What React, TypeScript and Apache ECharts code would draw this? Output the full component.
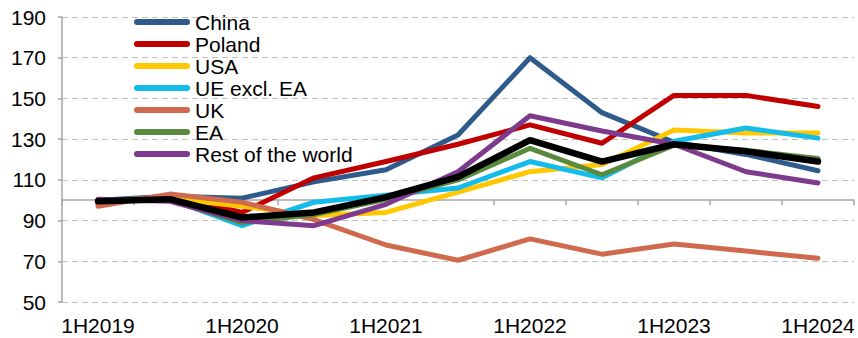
import React, { useEffect, useRef } from "react";
import * as echarts from "echarts";

// Half-year periods
const categories = [
  "1H2019", "2H2019", "1H2020", "2H2020", "1H2021", "2H2021",
  "1H2022", "2H2022", "1H2023", "2H2023", "1H2024",
];

// Index values by destination
const china = [100, 102, 101, 109, 115, 132, 170, 143, 128.5, 122.5, 114.5];
const poland = [98, 102.5, 94, 111, 119, 127.5, 137, 128, 151.5, 151.5, 146];
const usa = [100, 101, 97, 92.5, 94, 104, 114, 117.5, 134.5, 133, 133];
const ueExclEa = [100, 100.5, 87.5, 99, 102.5, 106, 119, 111, 129, 135.5, 130.5];
const uk = [97, 103, 99, 90.5, 78, 70.5, 81, 73.5, 78.5, 75, 71.5];
const ea = [100, 100, 89, 93, 100.5, 110, 125.5, 112.5, 127, 124.5, 120.5];
const restOfWorld = [100.5, 99.5, 90, 87.5, 98, 114, 141.5, 134, 127.5, 114, 108.5];
const total = [99.5, 100.5, 91.5, 94, 101.5, 111.5, 129.5, 119, 127.5, 124, 119];

const seriesNames = ["China", "Poland", "USA", "UE excl. EA", "UK", "EA", "Rest of the world"];
const seriesData = [china, poland, usa, ueExclEa, uk, ea, restOfWorld];
const seriesColors = ["#2F5B8C", "#C00000", "#FFC800", "#14BCEC", "#CF6A4E", "#5A8A3C", "#7E3A8C"];

const yMin = 50;
const yMax = 190;
const yStep = 20;
const baseValue = 100;

const FONT = "'Liberation Sans', Arial, sans-serif";
const W = 858;
const H = 338;
const GRID_TOP = 17;
const GRID_BOTTOM = 36;

export default function App() {
  const ref = useRef<HTMLDivElement>(null);

  useEffect(() => {
    if (!ref.current) return;
    const chart = echarts.init(ref.current, undefined, { renderer: "svg" });
    const gridHeight = H - GRID_TOP - GRID_BOTTOM;
    const baseOffset = -gridHeight * (baseValue - yMin) / (yMax - yMin);

    const lines = seriesNames.map((name, i) => ({
      name,
      type: "line",
      xAxisIndex: 0,
      data: seriesData[i],
      symbol: "none",
      color: seriesColors[i],
      lineStyle: { width: 5, color: seriesColors[i], cap: "round", join: "round" },
      z: 2 + i,
    }));

    chart.setOption({
      animation: false,
      backgroundColor: "#fff",
      grid: { left: 62, right: 4, top: GRID_TOP, bottom: GRID_BOTTOM },
      legend: {
        data: seriesNames,
        orient: "vertical",
        left: 134,
        top: 11,
        padding: 0,
        itemGap: 0,
        itemWidth: 56,
        itemHeight: 6,
        icon: "path://M3,0 H53 A3,3 0 0 1 53,6 H3 A3,3 0 0 1 3,0 Z",
        textStyle: { fontFamily: FONT, fontSize: 21, color: "#000", lineHeight: 22 },
        selectedMode: false,
      },
      xAxis: [
        {
          type: "category",
          data: categories,
          position: "bottom",
          boundaryGap: true,
          axisLine: { show: false, onZero: false },
          axisTick: { show: false },
          axisLabel: {
            interval: 1,
            fontFamily: FONT,
            fontSize: 21,
            color: "#000",
            margin: 13,
          },
          splitLine: { show: false },
        },
        {
          type: "category",
          data: categories,
          position: "bottom",
          offset: baseOffset,
          boundaryGap: true,
          axisLine: { show: true, onZero: false, lineStyle: { color: "#A6A6A6", width: 1.5 } },
          axisTick: { show: true, interval: 0, length: 5, lineStyle: { color: "#A6A6A6", width: 1.5 } },
          axisLabel: { show: false },
          splitLine: { show: false },
        },
      ],
      yAxis: {
        type: "value",
        min: yMin,
        max: yMax,
        interval: yStep,
        axisLine: { show: true, lineStyle: { color: "#A6A6A6", width: 1.5 } },
        axisTick: { show: true, length: 4, lineStyle: { color: "#A6A6A6", width: 1.5 } },
        axisLabel: { fontFamily: FONT, fontSize: 21, color: "#000", margin: 16 },
        splitLine: { show: true, lineStyle: { color: "#BFBFBF", type: [6, 4], width: 1 } },
      },
      series: [
        ...lines,
        {
          name: "Total",
          type: "line",
          xAxisIndex: 0,
          data: total,
          symbol: "none",
          color: "#000",
          lineStyle: { width: 6.5, color: "#000", cap: "round", join: "round" },
          z: 20,
        },
      ],
    });

    return () => chart.dispose();
  }, []);

  return (
    <div
      ref={ref}
      style={{ position: "fixed", left: 0, top: 0, width: W, height: H, background: "#fff" }}
    />
  );
}
